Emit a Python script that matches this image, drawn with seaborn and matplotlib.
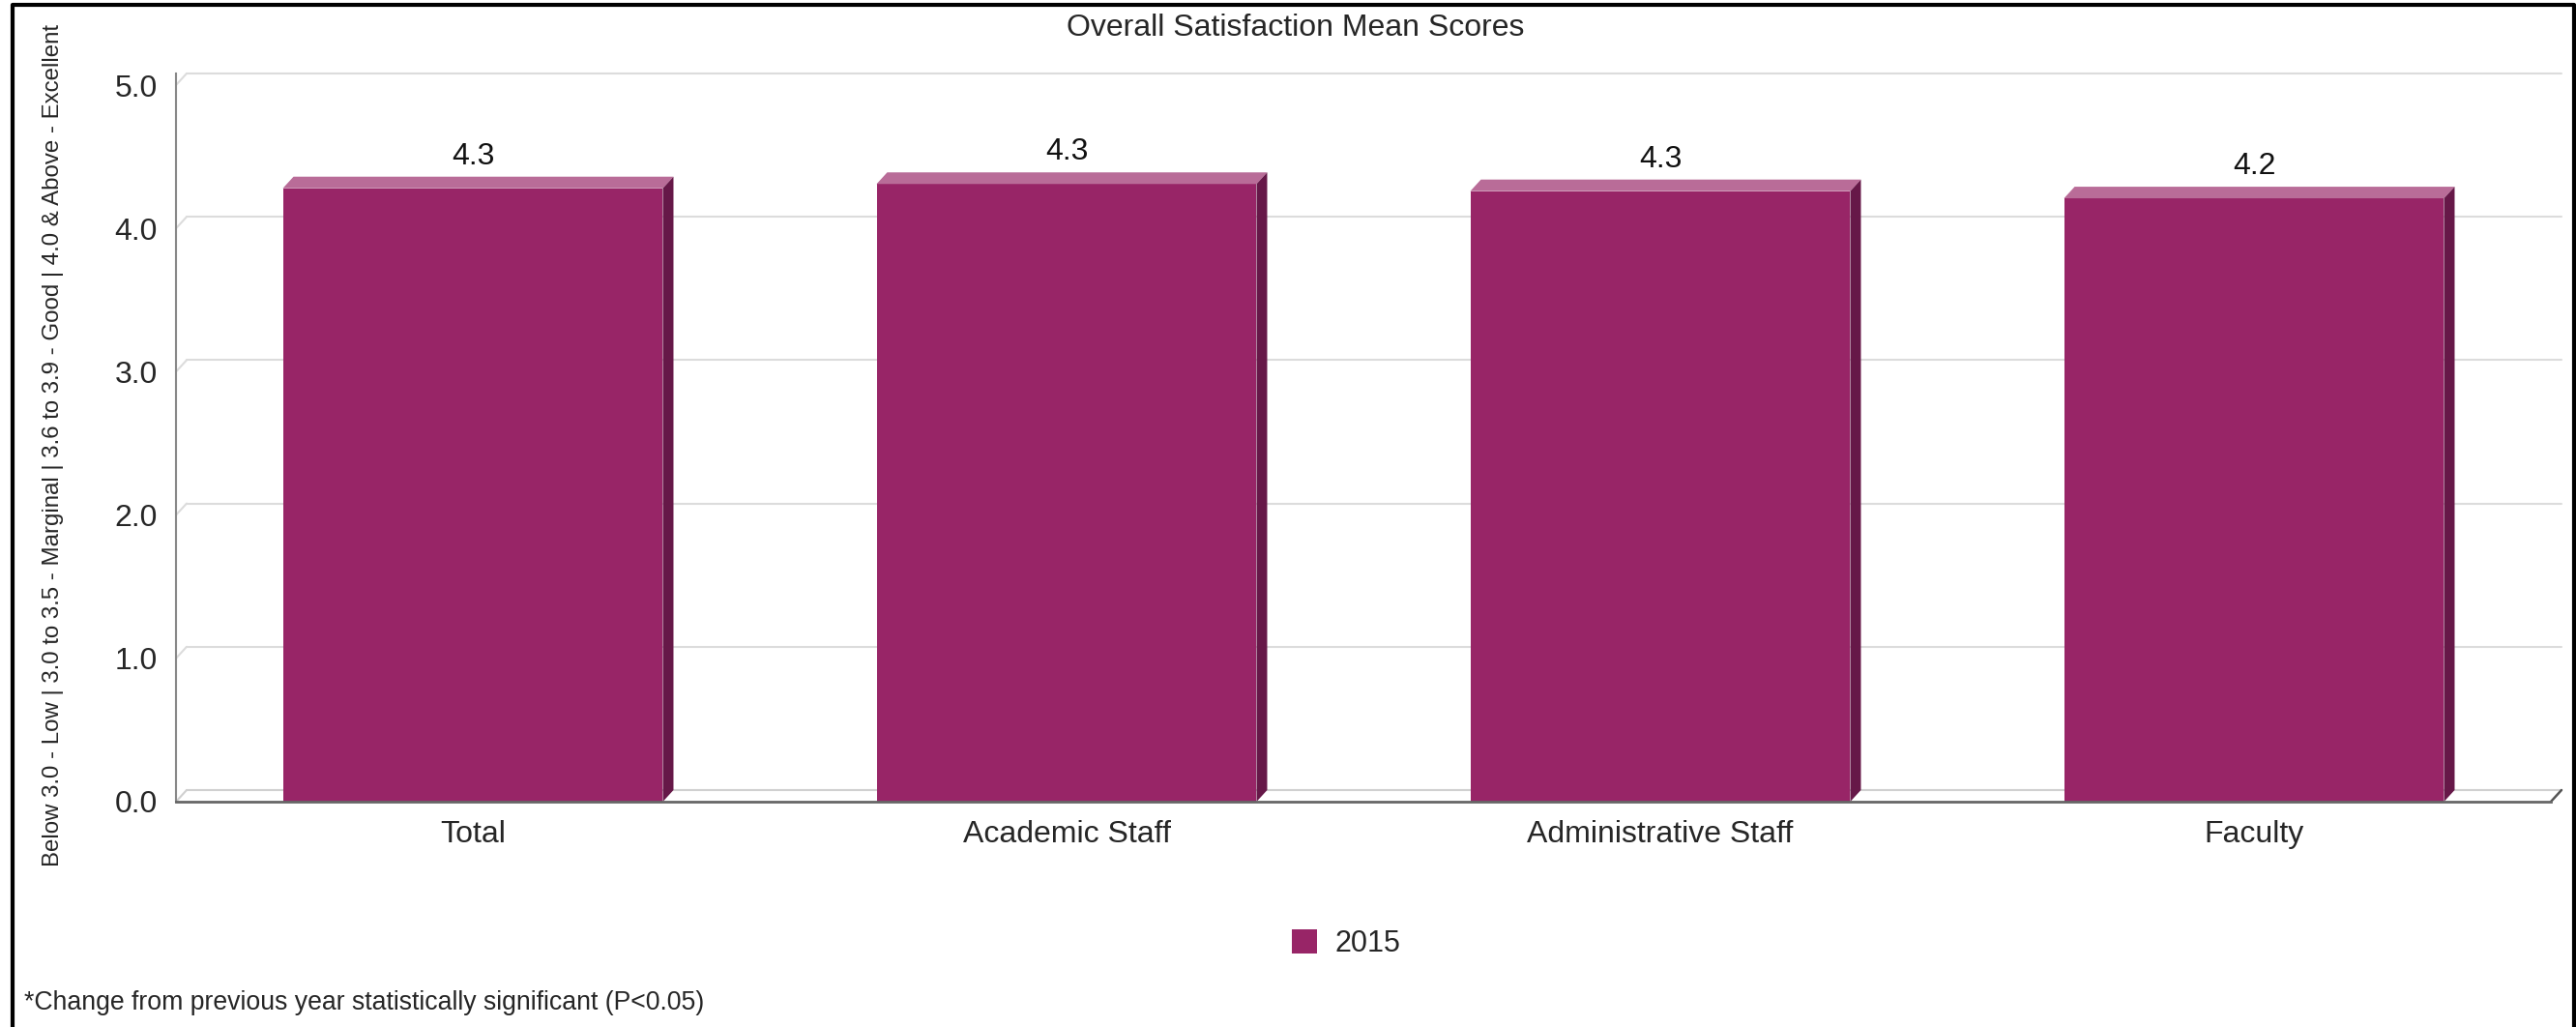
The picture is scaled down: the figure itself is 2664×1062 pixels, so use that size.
import matplotlib
matplotlib.use("Agg")
import matplotlib.pyplot as plt
from matplotlib.patches import Polygon, Patch
import seaborn as sns
import pandas as pd

categories = ["Total", "Academic Staff", "Administrative Staff", "Faculty"]
values = [4.28, 4.31, 4.26, 4.21]
value_labels = ["4.3", "4.3", "4.3", "4.2"]
series_name = "2015"
yticks = [0.0, 1.0, 2.0, 3.0, 4.0, 5.0]
title = "Overall Satisfaction Mean Scores"
ylabel = "Below 3.0 - Low | 3.0 to 3.5 - Marginal | 3.6 to 3.9 - Good | 4.0 & Above - Excellent"
footnote = "*Change from previous year statistically significant (P<0.05)"

FRONT = "#982567"
TOP = "#B96C98"
SIDE = "#661848"

sns.set_style("white")
plt.rcParams["font.family"] = ["Liberation Sans", "DejaVu Sans"]

W, H = 2664, 1062
fig = plt.figure(figsize=(W / 100, H / 100), dpi=100)
ax = fig.add_axes([182 / W, 1 - 829 / H, 2467 / W, 753 / H])

df = pd.DataFrame({"cat": categories, "val": values})
sns.barplot(data=df, x="cat", y="val", color=FRONT, saturation=1, width=0.64,
            ax=ax, zorder=3, edgecolor="none", linewidth=0)

dx = 11 / 614
dy = 12 / 148.2
ax.set_xlim(-0.5, 3.5 + dx)
ax.set_ylim(0, 5.0 + dy)

# 3D faces
for p in ax.patches:
    x0, w, h = p.get_x(), p.get_width(), p.get_height()
    ax.add_patch(Polygon([(x0, h), (x0 + w, h), (x0 + w + dx, h + dy), (x0 + dx, h + dy)],
                         closed=True, facecolor=TOP, edgecolor="none", zorder=3))
    ax.add_patch(Polygon([(x0 + w, 0), (x0 + w + dx, dy), (x0 + w + dx, h + dy), (x0 + w, h)],
                         closed=True, facecolor=SIDE, edgecolor="none", zorder=3))

for i, (v, lab) in enumerate(zip(values, value_labels)):
    ax.text(i, v + dy + 0.04, lab, ha="center", va="bottom", fontsize=23, color="#111111", zorder=5)

# back wall gridlines
for y in yticks[1:]:
    ax.plot([-0.5 + dx, 3.5 + dx], [y + dy, y + dy], color="#dcdcdc", lw=1.5, zorder=1, clip_on=False)
    ax.plot([-0.5, -0.5 + dx], [y, y + dy], color="#dcdcdc", lw=1.5, zorder=1, clip_on=False)
# floor
ax.plot([-0.5 + dx, 3.5 + dx], [dy, dy], color="#d0d0d0", lw=1.5, zorder=1, clip_on=False)
ax.plot([-0.5, -0.5 + dx], [0, dy], color="#d0d0d0", lw=1.5, zorder=1, clip_on=False)
ax.plot([3.5, 3.5 + dx], [0, dy], color="#555555", lw=1.8, zorder=4, clip_on=False)

for s in ["top", "right"]:
    ax.spines[s].set_visible(False)
ax.spines["left"].set_color("#888888")
ax.spines["left"].set_linewidth(1.5)
ax.spines["bottom"].set_color("#666666")
ax.spines["bottom"].set_linewidth(2)
ax.spines["bottom"].set_bounds(-0.5, 3.5)
ax.spines["bottom"].set_zorder(6)

ax.set_yticks(yticks)
ax.set_yticklabels([f"{t:.1f}" for t in yticks], fontsize=23)
ax.tick_params(axis="y", length=0, pad=14)
ax.tick_params(axis="x", length=0, pad=14, labelsize=23)
ax.set_xlabel("")
ax.set_ylabel("")

fig.text(55 / W, 1 - 460 / H, ylabel, rotation=90, ha="center", va="center", fontsize=17.3)
fig.text(1340 / W, 1 - 29 / H, title, ha="center", va="center", fontsize=23)
fig.text(25 / W, 1 - 1037 / H, footnote, ha="left", va="center", fontsize=19.2)

leg = fig.legend(handles=[Patch(facecolor=FRONT, edgecolor="none", label=series_name)],
                 loc="center", bbox_to_anchor=(1392 / W, 1 - 976 / H), frameon=False,
                 fontsize=22, handlelength=0.85, handleheight=0.85, handletextpad=0.6)

# outer border (left, top, right)
fig.add_artist(plt.Line2D([13 / W, 13 / W, 2662 / W, 2662 / W], [0, 1 - 5 / H, 1 - 5 / H, 0],
                          transform=fig.transFigure, color="black", lw=3))

fig.savefig("out.png", dpi=100, facecolor="white")
